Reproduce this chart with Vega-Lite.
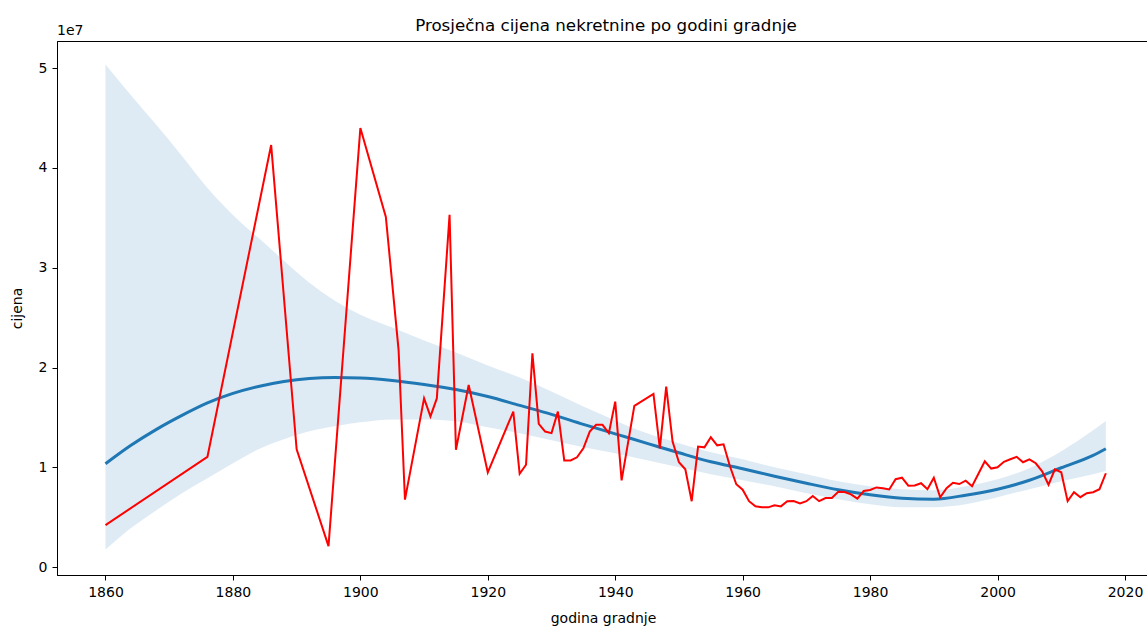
{
  "$schema": "https://vega.github.io/schema/vega-lite/v6.json",
  "width": 1092,
  "height": 534,
  "autosize": {"type": "none"},
  "padding": {"left": 57, "top": 41, "right": 0, "bottom": 53},
  "title": {"text": "Prosječna cijena nekretnine po godini gradnje", "fontSize": 16.7, "font": "DejaVu Sans", "fontWeight": "normal", "color": "#000", "anchor": "middle", "offset": -11, "dx": 3},
  "config": {
    "view": {"stroke": "#000", "strokeWidth": 1},
    "font": "DejaVu Sans",
    "axis": {"grid": false, "labelFont": "DejaVu Sans", "titleFont": "DejaVu Sans", "labelColor": "#000", "titleColor": "#000", "domainColor": "#000", "tickColor": "#000", "domainWidth": 1, "tickWidth": 1, "tickSize": 5, "labelPadding": 5, "labelFontSize": 14, "titleFontSize": 14, "titleFontWeight": "normal", "labelFlush": false}
  },
  "datasets": {
    "red": [
      {"godina": 1860, "cijena": 4200000}, {"godina": 1876, "cijena": 11050000}, {"godina": 1886, "cijena": 42300000},
      {"godina": 1890, "cijena": 11800000}, {"godina": 1895, "cijena": 2100000}, {"godina": 1900, "cijena": 44000000},
      {"godina": 1904, "cijena": 35100000}, {"godina": 1906, "cijena": 21750000}, {"godina": 1907, "cijena": 6750000},
      {"godina": 1910, "cijena": 16900000}, {"godina": 1911, "cijena": 15100000}, {"godina": 1912, "cijena": 16900000},
      {"godina": 1914, "cijena": 35300000}, {"godina": 1915, "cijena": 11750000}, {"godina": 1917, "cijena": 18250000},
      {"godina": 1920, "cijena": 9480000}, {"godina": 1924, "cijena": 15580000}, {"godina": 1925, "cijena": 9350000},
      {"godina": 1926, "cijena": 10250000}, {"godina": 1927, "cijena": 21420000}, {"godina": 1928, "cijena": 14350000},
      {"godina": 1929, "cijena": 13580000}, {"godina": 1930, "cijena": 13420000}, {"godina": 1931, "cijena": 15580000},
      {"godina": 1932, "cijena": 10680000}, {"godina": 1933, "cijena": 10680000}, {"godina": 1934, "cijena": 11000000},
      {"godina": 1935, "cijena": 11900000}, {"godina": 1936, "cijena": 13580000}, {"godina": 1937, "cijena": 14250000},
      {"godina": 1938, "cijena": 14250000}, {"godina": 1939, "cijena": 13420000}, {"godina": 1940, "cijena": 16580000},
      {"godina": 1941, "cijena": 8680000}, {"godina": 1943, "cijena": 16150000}, {"godina": 1946, "cijena": 17350000},
      {"godina": 1947, "cijena": 11900000}, {"godina": 1948, "cijena": 18080000}, {"godina": 1949, "cijena": 12580000},
      {"godina": 1950, "cijena": 10500000}, {"godina": 1951, "cijena": 9800000}, {"godina": 1952, "cijena": 6600000},
      {"godina": 1953, "cijena": 12080000}, {"godina": 1954, "cijena": 12000000}, {"godina": 1955, "cijena": 13000000},
      {"godina": 1956, "cijena": 12200000}, {"godina": 1957, "cijena": 12300000}, {"godina": 1958, "cijena": 10100000},
      {"godina": 1959, "cijena": 8300000}, {"godina": 1960, "cijena": 7750000}, {"godina": 1961, "cijena": 6600000},
      {"godina": 1962, "cijena": 6080000}, {"godina": 1963, "cijena": 6000000}, {"godina": 1964, "cijena": 5980000},
      {"godina": 1965, "cijena": 6180000}, {"godina": 1966, "cijena": 6080000}, {"godina": 1967, "cijena": 6600000},
      {"godina": 1968, "cijena": 6620000}, {"godina": 1969, "cijena": 6380000}, {"godina": 1970, "cijena": 6600000},
      {"godina": 1971, "cijena": 7120000}, {"godina": 1972, "cijena": 6600000}, {"godina": 1973, "cijena": 6920000},
      {"godina": 1974, "cijena": 6920000}, {"godina": 1975, "cijena": 7550000}, {"godina": 1976, "cijena": 7520000},
      {"godina": 1977, "cijena": 7280000}, {"godina": 1978, "cijena": 6850000}, {"godina": 1979, "cijena": 7620000},
      {"godina": 1980, "cijena": 7720000}, {"godina": 1981, "cijena": 7980000}, {"godina": 1982, "cijena": 7900000},
      {"godina": 1983, "cijena": 7780000}, {"godina": 1984, "cijena": 8800000}, {"godina": 1985, "cijena": 8950000},
      {"godina": 1986, "cijena": 8150000}, {"godina": 1987, "cijena": 8180000}, {"godina": 1988, "cijena": 8400000},
      {"godina": 1989, "cijena": 7800000}, {"godina": 1990, "cijena": 8950000}, {"godina": 1991, "cijena": 6980000},
      {"godina": 1992, "cijena": 7900000}, {"godina": 1993, "cijena": 8450000}, {"godina": 1994, "cijena": 8320000},
      {"godina": 1995, "cijena": 8650000}, {"godina": 1996, "cijena": 8100000}, {"godina": 1997, "cijena": 9350000},
      {"godina": 1998, "cijena": 10600000}, {"godina": 1999, "cijena": 9870000}, {"godina": 2000, "cijena": 10000000},
      {"godina": 2001, "cijena": 10550000}, {"godina": 2002, "cijena": 10800000}, {"godina": 2003, "cijena": 11050000},
      {"godina": 2004, "cijena": 10500000}, {"godina": 2005, "cijena": 10800000}, {"godina": 2006, "cijena": 10400000},
      {"godina": 2007, "cijena": 9600000}, {"godina": 2008, "cijena": 8250000}, {"godina": 2009, "cijena": 9800000},
      {"godina": 2010, "cijena": 9500000}, {"godina": 2011, "cijena": 6600000}, {"godina": 2012, "cijena": 7500000},
      {"godina": 2013, "cijena": 7000000}, {"godina": 2014, "cijena": 7400000}, {"godina": 2015, "cijena": 7500000},
      {"godina": 2016, "cijena": 7800000}, {"godina": 2017, "cijena": 9400000}
    ],
    "fit": [
      {"godina": 1860, "fit": 10350000, "lower": 1750000, "upper": 50370000},
      {"godina": 1864, "fit": 12200000, "lower": 3900000, "upper": 47300000},
      {"godina": 1868, "fit": 13800000, "lower": 5700000, "upper": 44300000},
      {"godina": 1872, "fit": 15200000, "lower": 7400000, "upper": 41200000},
      {"godina": 1876, "fit": 16450000, "lower": 8900000, "upper": 38000000},
      {"godina": 1880, "fit": 17400000, "lower": 10400000, "upper": 35300000},
      {"godina": 1884, "fit": 18100000, "lower": 11800000, "upper": 33000000},
      {"godina": 1888, "fit": 18600000, "lower": 12800000, "upper": 30700000},
      {"godina": 1892, "fit": 18900000, "lower": 13600000, "upper": 28500000},
      {"godina": 1896, "fit": 19000000, "lower": 14100000, "upper": 26700000},
      {"godina": 1900, "fit": 18950000, "lower": 14500000, "upper": 25300000},
      {"godina": 1905, "fit": 18700000, "lower": 14800000, "upper": 24000000},
      {"godina": 1910, "fit": 18300000, "lower": 14800000, "upper": 22700000},
      {"godina": 1915, "fit": 17800000, "lower": 14600000, "upper": 21500000},
      {"godina": 1920, "fit": 17100000, "lower": 14000000, "upper": 20200000},
      {"godina": 1925, "fit": 16200000, "lower": 13400000, "upper": 19000000},
      {"godina": 1930, "fit": 15300000, "lower": 12700000, "upper": 17600000},
      {"godina": 1935, "fit": 14300000, "lower": 12000000, "upper": 16100000},
      {"godina": 1940, "fit": 13350000, "lower": 11400000, "upper": 14700000},
      {"godina": 1945, "fit": 12400000, "lower": 10700000, "upper": 13400000},
      {"godina": 1950, "fit": 11450000, "lower": 10000000, "upper": 12400000},
      {"godina": 1955, "fit": 10550000, "lower": 9300000, "upper": 11500000},
      {"godina": 1960, "fit": 9850000, "lower": 8700000, "upper": 10800000},
      {"godina": 1965, "fit": 9100000, "lower": 8100000, "upper": 10000000},
      {"godina": 1970, "fit": 8400000, "lower": 7400000, "upper": 9300000},
      {"godina": 1975, "fit": 7750000, "lower": 6800000, "upper": 8600000},
      {"godina": 1980, "fit": 7250000, "lower": 6300000, "upper": 8100000},
      {"godina": 1985, "fit": 6900000, "lower": 6000000, "upper": 7800000},
      {"godina": 1990, "fit": 6800000, "lower": 6000000, "upper": 7700000},
      {"godina": 1995, "fit": 7200000, "lower": 6300000, "upper": 8100000},
      {"godina": 2000, "fit": 7800000, "lower": 7000000, "upper": 8800000},
      {"godina": 2005, "fit": 8700000, "lower": 7800000, "upper": 9900000},
      {"godina": 2010, "fit": 9950000, "lower": 8600000, "upper": 11600000},
      {"godina": 2015, "fit": 11200000, "lower": 9300000, "upper": 13700000},
      {"godina": 2017, "fit": 11860000, "lower": 9620000, "upper": 14630000}
    ],
    "offset": [{"t": "1e7"}]
  },
  "layer": [
    {
      "data": {"name": "fit"},
      "mark": {"type": "area", "color": "#1f77b4", "opacity": 0.15, "interpolate": "monotone"},
      "encoding": {
        "x": {"field": "godina", "type": "quantitative", "scale": {"domain": [1852.39, 2023.77], "nice": false, "zero": false},
              "axis": {"values": [1860, 1880, 1900, 1920, 1940, 1960, 1980, 2000, 2020], "format": "d", "title": "godina gradnje", "titlePadding": 12}},
        "y": {"field": "upper", "type": "quantitative", "scale": {"domain": [-800000, 52730000], "nice": false, "zero": false},
              "axis": {"values": [0, 10000000, 20000000, 30000000, 40000000, 50000000], "labelExpr": "format(datum.value/10000000,'d')", "title": "cijena", "titlePadding": 14}},
        "y2": {"field": "lower"}
      }
    },
    {
      "data": {"name": "fit"},
      "mark": {"type": "line", "color": "#1f77b4", "strokeWidth": 3, "interpolate": "monotone"},
      "encoding": {
        "x": {"field": "godina", "type": "quantitative"},
        "y": {"field": "fit", "type": "quantitative"}
      }
    },
    {
      "data": {"name": "red"},
      "mark": {"type": "line", "color": "#ff0000", "strokeWidth": 2},
      "encoding": {
        "x": {"field": "godina", "type": "quantitative"},
        "y": {"field": "cijena", "type": "quantitative"}
      }
    },
    {
      "data": {"name": "offset"},
      "mark": {"type": "text", "align": "left", "baseline": "alphabetic", "dy": -6, "fontSize": 14, "font": "DejaVu Sans", "color": "#000"},
      "encoding": {
        "text": {"field": "t"},
        "x": {"datum": 1852.39, "type": "quantitative"},
        "y": {"datum": 52730000, "type": "quantitative"}
      }
    }
  ]
}
